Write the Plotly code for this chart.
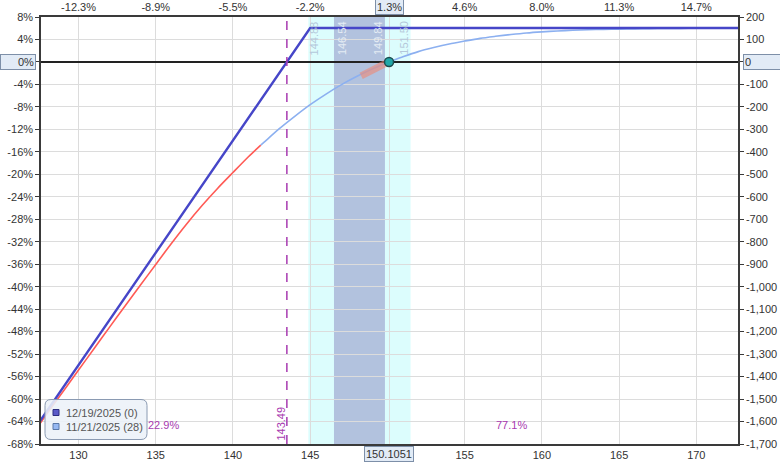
import plotly.graph_objects as go

# expiration line, 12/19/2025 (0 days left)
exp_price = [127.0, 145.0, 173.0]
exp_pnl = [-1649, 151, 151]

# 11/21/2025 (28 days left)
t_price = [127, 128, 129, 130, 131, 132, 133, 134, 135, 136, 137, 138, 139, 140, 141, 141.8,
           142, 143, 144, 145, 146, 147, 148, 149, 150, 150.1051, 151, 152, 153, 154, 155,
           156, 157, 158, 159, 160, 161, 162, 163, 164, 165, 166, 167, 168, 169, 170, 171, 172, 173]
t_pnl = [-1657, -1561, -1466, -1371, -1276, -1181, -1087, -994, -901, -809, -721, -639, -563,
         -492, -422, -370, -358, -297, -242, -190, -144, -102, -65, -32, -2, 0, 23, 46, 64, 80, 93,
         105, 114, 122, 129, 134, 138, 141, 143.5, 145, 146, 147.3, 148.2, 149, 149.5, 150, 150.4,
         150.7, 150.9]
split = 15  # red part ends at 141.8

tangent_price = [148.3, 150.3]
tangent_pnl = [-62, 8]

current_price = 150.1051
current_pnl = 0
breakeven = 143.49
sd1 = [144.88, 151.50]
sd_half = [146.54, 149.84]
prob_below = "22.9%"
prob_above = "77.1%"

x_ticks = [130, 135, 140, 145, 150.1051, 155, 160, 165, 170]
x_labels = ["130", "135", "140", "145", "", "155", "160", "165", "170"]
top_labels = ["-12.3%", "-8.9%", "-5.5%", "-2.2%", "", "4.6%", "8.0%", "11.3%", "14.7%"]
current_top = "1.3%"

y_ticks = list(range(200, -1701, -100))
y_pct_labels = ["8%", "4%", "", "-4%", "-8%", "-12%", "-16%", "-20%", "-24%", "-28%", "-32%",
                "-36%", "-40%", "-44%", "-48%", "-52%", "-56%", "-60%", "-64%", "-68%"]
y_usd_labels = ["200", "100", "", "-100", "-200", "-300", "-400", "-500", "-600", "-700", "-800",
                "-900", "-1,000", "-1,100", "-1,200", "-1,300", "-1,400", "-1,500", "-1,600", "-1,700"]

legend_names = ["12/19/2025 (0)", "11/21/2025 (28)"]

x_range = [127.57, 172.7]
y_range = [-1700, 200]

dark_blue = "#4646c8"
light_blue = "#8cb0f0"
magenta = "#a83ab0"
font = dict(family="Arial", size=11, color="#333333")

fig = go.Figure()
fig.add_trace(go.Scatter(x=t_price[:split + 1], y=t_pnl[:split + 1], mode="lines",
                         line=dict(color="#ff5a55", width=1.6, shape="spline", smoothing=0.8),
                         showlegend=False))
fig.add_trace(go.Scatter(x=t_price[split:], y=t_pnl[split:], mode="lines",
                         line=dict(color=light_blue, width=1.6, shape="spline", smoothing=0.8),
                         showlegend=False))
fig.add_trace(go.Scatter(x=tangent_price, y=tangent_pnl, mode="lines",
                         line=dict(color="rgba(240,135,115,0.6)", width=7), showlegend=False))
fig.add_trace(go.Scatter(x=exp_price, y=exp_pnl, mode="lines",
                         line=dict(color=dark_blue, width=2.4), showlegend=False))
fig.add_trace(go.Scatter(x=[current_price], y=[current_pnl], mode="markers",
                         marker=dict(size=9, color="#22a8a8", line=dict(color="#1d4d50", width=1.5)),
                         showlegend=False))
# dummy trace so the overlaid top / right axes get drawn
fig.add_trace(go.Scatter(x=[None], y=[None], xaxis="x2", yaxis="y2", showlegend=False))

# shaded std dev zones
fig.add_shape(type="rect", xref="x", yref="paper", x0=sd1[0], x1=sd1[1], y0=0, y1=1,
              fillcolor="#dcfdfd", line_width=0, layer="below")
fig.add_shape(type="rect", xref="x", yref="paper", x0=sd_half[0], x1=sd_half[1], y0=0, y1=1,
              fillcolor="#b2c2de", line_width=0, layer="below")
fig.add_shape(type="line", xref="x", yref="paper", x0=breakeven, x1=breakeven, y0=0, y1=1,
              line=dict(color=magenta, width=1.5, dash="dash"))

for v, shift, col in [(sd1[0], 6, "#b4c8da"), (sd_half[0], 8, "#e4ecf4"),
                      (sd_half[1], -7, "#e4ecf4"), (sd1[1], -6, "#b4c8da")]:
    fig.add_annotation(x=v, y=0.995, xref="x", yref="paper", text=f"{v:.2f}", textangle=-90,
                       showarrow=False, xshift=shift, yanchor="top",
                       font=dict(family="Arial", size=11, color=col))

fig.add_annotation(x=breakeven, y=0.003, xref="x", yref="paper", text=f"{breakeven:.2f}",
                   textangle=-90, showarrow=False, xshift=-6, yanchor="bottom",
                   font=dict(family="Arial", size=11, color=magenta))
fig.add_annotation(x=135.53, y=0.025, xref="x", yref="paper", text=prob_below, showarrow=False,
                   font=dict(family="Arial", size=11, color=magenta))
fig.add_annotation(x=158.05, y=0.025, xref="x", yref="paper", text=prob_above, showarrow=False,
                   font=dict(family="Arial", size=11, color=magenta))

# boxed labels for current price and zero
box = dict(bgcolor="#e2ebf6", bordercolor="#7d8fa8", borderwidth=1, borderpad=1)
fig.add_annotation(x=current_price, y=0, xref="x", yref="paper", text=f"{current_price:.4f}",
                   showarrow=False, yanchor="top", yshift=-2, font=font, **box)
fig.add_annotation(x=current_price, y=1, xref="x", yref="paper", text=current_top,
                   showarrow=False, yanchor="bottom", yshift=2, font=font, **box)
fig.add_annotation(x=0, y=0, xref="paper", yref="y", text="0%", showarrow=False, xanchor="right",
                   xshift=-5, width=32, align="right", font=font, **box)
fig.add_annotation(x=1, y=0, xref="paper", yref="y", text="0", showarrow=False, xanchor="left",
                   xshift=5, width=40, align="left", font=font, **box)

# legend box drawn by hand (rounded corners)
fig.add_shape(type="path", xref="paper", yref="paper", xsizemode="pixel", ysizemode="pixel",
              xanchor=0, yanchor=0,
              path="M 10,4.5 L 100,4.5 Q 106,4.5 106,10.5 L 106,38.5 Q 106,44.5 100,44.5 "
                   "L 10,44.5 Q 4,44.5 4,38.5 L 4,10.5 Q 4,4.5 10,4.5 Z",
              fillcolor="rgba(236,241,248,0.88)", line=dict(color="#8a9ab2", width=1), layer="above")
for name, fill, edge, dy in [(legend_names[0], "#5a5ac8", "#2c2c80", 31.5),
                             (legend_names[1], "#96b8f2", "#5a78a8", 17.5)]:
    fig.add_shape(type="rect", xref="paper", yref="paper", xsizemode="pixel", ysizemode="pixel",
                  xanchor=0, yanchor=0, x0=12, x1=18, y0=dy - 3, y1=dy + 3,
                  fillcolor=fill, line=dict(color=edge, width=1), layer="above")
    fig.add_annotation(x=0, y=0, xref="paper", yref="paper", text=name, showarrow=False,
                       xanchor="left", yanchor="middle", xshift=23, yshift=dy,
                       font=dict(family="Arial", size=11, color="#555555"))

axis_line = dict(showline=True, linecolor="#3a3a3a", linewidth=1.5, automargin=False)
fig.update_layout(
    width=780, height=462,
    margin=dict(l=41, r=42, t=17, b=18),
    paper_bgcolor="white", plot_bgcolor="white",
    font=font,
    showlegend=False,
    xaxis=dict(range=x_range, tickmode="array", tickvals=x_ticks, ticktext=x_labels,
               showgrid=True, gridcolor="#dcdcdc", gridwidth=1, zeroline=False,
               ticks="", tickfont=font, **axis_line),
    xaxis2=dict(range=x_range, overlaying="x", side="top", tickmode="array", tickvals=x_ticks,
                ticktext=top_labels, showgrid=False, zeroline=False, ticks="",
                tickfont=font, **axis_line),
    yaxis=dict(range=y_range, tickmode="array", tickvals=y_ticks, ticktext=y_pct_labels,
               showgrid=True, gridcolor="#dcdcdc", gridwidth=1, zeroline=True,
               zerolinecolor="#222222", zerolinewidth=1.5, ticks="outside", ticklen=4,
               tickcolor="#3a3a3a", tickfont=font, **axis_line),
    yaxis2=dict(range=y_range, overlaying="y", side="right", tickmode="array", tickvals=y_ticks,
                ticktext=y_usd_labels, showgrid=False, zeroline=False, ticks="outside", ticklen=4,
                tickcolor="#3a3a3a", tickfont=font, **axis_line),
)

# page has a default body margin; drop it so the figure sits at the window corner
fig.write_html("out.html", config={"displayModeBar": False},
               post_script="document.body.style.margin='0';")
